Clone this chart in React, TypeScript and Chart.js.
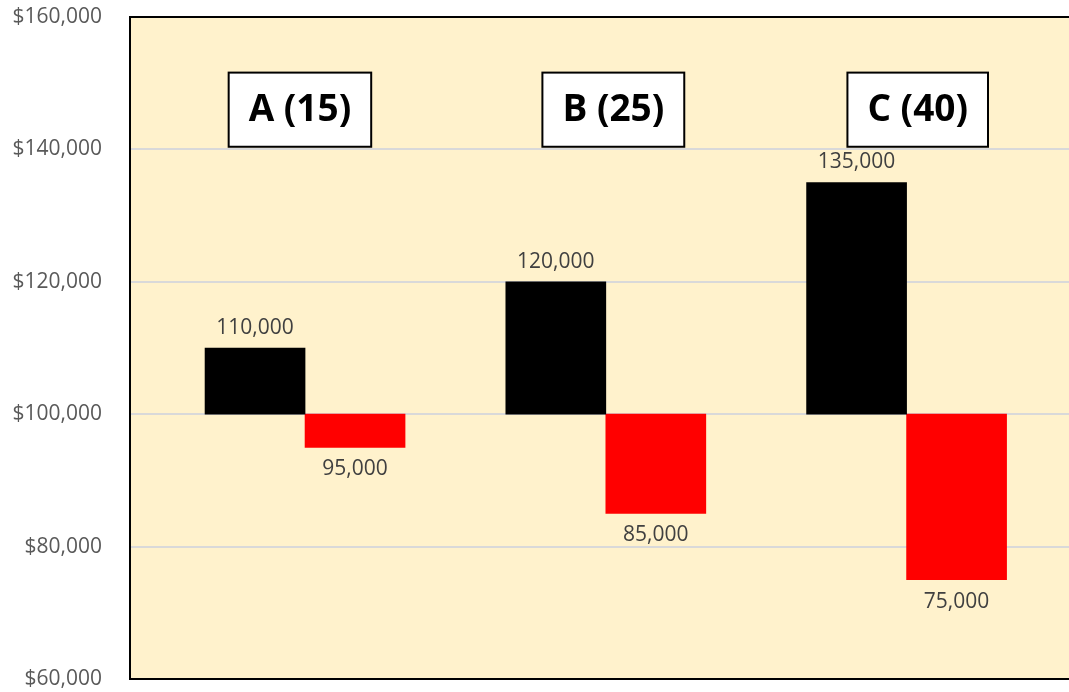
import React, { useEffect, useRef } from "react";
import { Chart, registerables } from "chart.js";

Chart.register(...registerables);

// ---- data ----
const categories = ["A (15)", "B (25)", "C (40)"];
const groupX = [1, 2, 3];
const baseValue = 100000;
const highValues = [110000, 120000, 135000];
const lowValues = [95000, 85000, 75000];
const labelBoxX = [0.983, 2.025, 3.037];
const labelBoxTop = 151600;
const labelBoxBottom = 140400;
const yMin = 60000;
const yMax = 160000;
const yStep = 20000;

const FONT = "'Open Sans', 'Noto Sans', sans-serif";

const fmt = (v: number) => v.toLocaleString("en-US");

const decorPlugin = {
  id: "decor",
  beforeDraw(chart: any) {
    const { ctx, chartArea } = chart;
    ctx.save();
    ctx.fillStyle = "#FFF2CC";
    ctx.fillRect(chartArea.left, chartArea.top, chartArea.right - chartArea.left, chartArea.bottom - chartArea.top);
    ctx.restore();
  },
  afterDatasetsDraw(chart: any) {
    const { ctx, chartArea } = chart;
    const xs = chart.scales.x;
    const ys = chart.scales.y;
    ctx.save();
    // data labels
    ctx.font = `21px ${FONT}`;
    ctx.fillStyle = "#404040";
    ctx.textAlign = "center";
    ctx.textBaseline = "middle";
    chart.data.datasets.forEach((ds: any, di: number) => {
      const meta = chart.getDatasetMeta(di);
      meta.data.forEach((bar: any, i: number) => {
        const v = ds.data[i].y[1];
        const py = ys.getPixelForValue(v);
        const up = v >= baseValue;
        const y = up ? py - 20 : py + 22;
        ctx.fillText(fmt(v), bar.x, y);
      });
    });
    // label boxes
    ctx.font = `bold 37px ${FONT}`;
    categories.forEach((c, i) => {
      const cx = xs.getPixelForValue(labelBoxX[i]);
      const top = ys.getPixelForValue(labelBoxTop);
      const bottom = ys.getPixelForValue(labelBoxBottom);
      const tw = ctx.measureText(c).width;
      const w = tw + 40;
      ctx.fillStyle = "#FFFFFF";
      ctx.fillRect(cx - w / 2, top, w, bottom - top);
      ctx.lineWidth = 2;
      ctx.strokeStyle = "#000000";
      ctx.strokeRect(cx - w / 2, top, w, bottom - top);
      ctx.fillStyle = "#000000";
      ctx.fillText(c, cx, (top + bottom) / 2 + 1);
    });
    // plot border (top, left, bottom)
    ctx.strokeStyle = "#000000";
    ctx.lineWidth = 2;
    ctx.beginPath();
    ctx.moveTo(chartArea.right + 5, chartArea.top);
    ctx.lineTo(chartArea.left, chartArea.top);
    ctx.lineTo(chartArea.left, chartArea.bottom);
    ctx.lineTo(chartArea.right + 5, chartArea.bottom);
    ctx.stroke();
    ctx.restore();
  },
};

export default function App() {
  const ref = useRef<HTMLCanvasElement | null>(null);
  useEffect(() => {
    if (!ref.current) return;
    const chart = new Chart(ref.current, {
      type: "bar",
      data: {
        datasets: [
          {
            label: "High",
            data: groupX.map((x, i) => ({ x, y: [baseValue, highValues[i]] })) as any,
            backgroundColor: "#000000",
            barThickness: 100,
          },
          {
            label: "Low",
            data: groupX.map((x, i) => ({ x, y: [baseValue, lowValues[i]] })) as any,
            backgroundColor: "#FF0000",
            barThickness: 100,
          },
        ],
      },
      options: {
        responsive: false,
        animation: false,
        layout: { padding: { top: 17, bottom: 13, left: 0, right: 0 } },
        plugins: { legend: { display: false }, tooltip: { enabled: false } },
        scales: {
          x: {
            type: "linear",
            offset: false,
            min: 0.418,
            max: 3.54,
            display: false,
          },
          y: {
            min: yMin,
            max: yMax,
            afterFit: (s: any) => {
              s.width = 130;
            },
            border: { display: false },
            grid: {
              color: "#D9D9D9",
              lineWidth: 2,
              drawTicks: true,
              tickLength: 28,
              tickColor: "rgba(0,0,0,0)",
            },
            ticks: {
              stepSize: yStep,
              padding: 0,
              color: "#595959",
              font: { family: FONT, size: 21 },
              callback: (v: any) => "$" + fmt(Number(v)),
            },
          },
        },
      },
      plugins: [decorPlugin],
    });
    return () => chart.destroy();
  }, []);
  return (
    <div style={{ position: "absolute", left: 0, top: 0, width: 1069, height: 692, overflow: "hidden", background: "#FFFFFF" }}>
      <canvas ref={ref} width={1069} height={692} style={{ display: "block" }} />
    </div>
  );
}
